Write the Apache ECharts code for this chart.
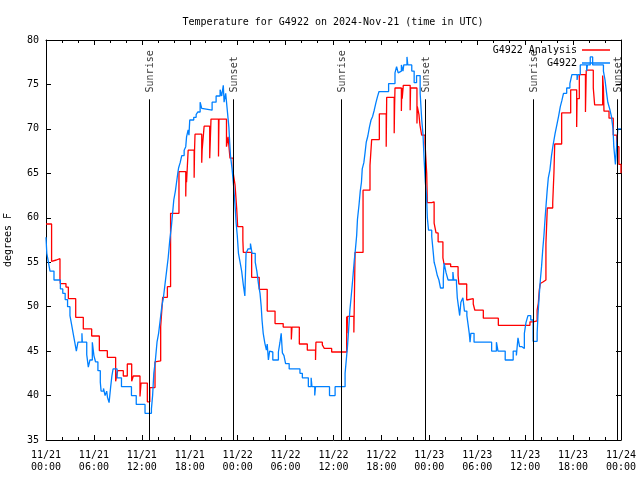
<!DOCTYPE html>
<html>
<head>
<meta charset="utf-8">
<script src="https://cdn.jsdelivr.net/npm/echarts@6/dist/echarts.min.js"></script>
<style>html,body{margin:0;padding:0;background:#fff;}#c{width:640px;height:480px;}</style>
</head>
<body>
<div id="c"></div>
<script>
// hours since 11/21 00:00 UTC, temperature (F)
const observed = [[0,57.8],[0.1,56],[0.3,55],[0.5,54],[1.0,53],[1.8,52],[2.1,51.5],[2.4,50.8],[2.7,50],[3.0,49],[3.2,48],[3.4,47],[3.6,46],[3.8,45],[4.0,46],[4.5,47],[4.55,46],[5.1,44.6],[5.3,43.2],[5.5,44],[5.8,46],[6.0,44.5],[6.2,43.8],[6.5,42.8],[6.8,41.5],[6.9,40.5],[7.2,40.8],[7.4,40],[7.6,40.5],[7.7,39.8],[7.9,39.2],[8.1,41],[8.25,42.2],[8.4,43],[8.9,42],[9.45,41],[10.7,40],[11.3,39],[12.4,38],[13.2,38.5],[13.35,40],[13.5,42.5],[13.7,44],[13.9,46],[14.1,47],[14.3,48.5],[14.5,50],[14.7,51],[14.9,52.5],[15.1,54],[15.3,55.5],[15.5,57.5],[15.7,59],[15.85,60.5],[16.0,62],[16.2,63],[16.35,64],[16.5,65],[16.6,65.6],[16.8,66.2],[17.0,67],[17.3,67.6],[17.5,68],[17.6,69.1],[17.8,69.9],[17.9,69.3],[18.0,71],[18.5,71.3],[18.8,71.6],[19.0,71.9],[19.3,73],[19.5,72.3],[19.7,72.1],[20.8,73],[21.3,73.7],[21.8,74.4],[22.0,73.7],[22.2,74.9],[22.3,73],[22.5,74],[22.7,72.1],[22.9,70.2],[23.0,68.5],[23.1,67],[23.3,65.5],[23.5,63.5],[23.7,61],[23.8,59.5],[23.95,58],[24.1,56],[24.3,55],[24.5,54],[24.7,52.5],[24.9,51.2],[25.05,56],[25.3,56.5],[25.6,57.1],[25.8,56],[26.2,55],[26.4,54],[26.6,52.6],[26.8,51.5],[26.95,50],[27.05,48.5],[27.2,47],[27.4,45.9],[27.6,45.1],[27.7,45.8],[27.85,44],[28.0,45],[28.2,44.9],[28.4,44],[29.1,44.9],[29.3,46],[29.45,47],[29.6,44.8],[29.8,44.5],[30.0,43.6],[30.45,43],[31.8,42.5],[32.1,42],[32.85,41],[33.2,42],[33.3,41],[33.65,40],[33.75,41],[35.5,40],[36.2,41],[37.45,42.5],[37.6,44],[37.75,45.5],[37.9,47.5],[38.05,49.6],[38.2,51],[38.4,53],[38.6,55.2],[38.75,56.5],[38.9,58],[39.0,59.8],[39.2,61.5],[39.35,63],[39.5,64],[39.6,65.5],[39.8,66.2],[39.95,67.3],[40.1,68.5],[40.3,69.2],[40.5,70.2],[40.7,71],[40.9,71.4],[41.1,72.1],[41.3,72.9],[41.5,73.6],[41.7,74.2],[42.9,75.1],[43.7,76.3],[43.9,77],[44.1,76.3],[44.3,76.5],[44.5,77.2],[44.7,76.5],[44.8,77.2],[45.2,78.1],[45.3,77.2],[45.8,76.5],[46.1,75.2],[46.4,76],[46.85,74],[46.95,72.5],[47.05,71],[47.2,69.5],[47.35,66.5],[47.5,64],[47.65,62.5],[47.75,60],[47.9,58.6],[48.3,57.9],[48.5,56],[48.6,55],[48.75,54.5],[49.0,53.5],[49.2,53],[49.4,52.1],[49.75,53.2],[49.85,54.9],[50.1,53.8],[50.35,53],[50.95,53.9],[51.05,53],[51.4,52.6],[51.5,51],[51.65,50],[51.8,49],[51.95,50.5],[52.2,51],[52.4,49.5],[52.7,49],[52.85,48],[53.0,47],[53.1,46],[53.2,47],[53.6,46],[55.8,45],[56.4,46],[56.6,45],[57.5,44],[58.5,45],[58.9,44.5],[59.1,46.5],[59.3,45.5],[59.6,45.3],[59.9,47],[60.1,48.2],[60.35,49],[60.7,48.5],[61.0,46.1],[61.5,47],[61.6,49],[61.75,51.1],[61.9,53],[62.05,54.5],[62.2,56.4],[62.35,58],[62.5,60],[62.6,61.2],[62.75,63],[62.9,64.5],[63.1,65.4],[63.3,67],[63.5,68.2],[63.75,69.5],[64.0,70.6],[64.2,71.5],[64.4,72.5],[64.6,73.2],[64.8,74],[65.2,74.6],[65.6,75.1],[65.85,76.1],[66.5,75.5],[66.6,76.1],[66.9,77.2],[67.7,76.5],[67.8,77.2],[68.15,78.1],[68.45,77.2],[69.8,76.5],[70.0,75.5],[70.2,74],[70.35,73],[70.6,72.2],[70.8,71.4],[71.0,70],[71.1,68],[71.3,66],[71.45,68],[71.6,70],[72,70]];

const analysis = [[0,59.3],[0.7,55.1],[0.85,55.25],[1.3,55.4],[1.75,53],[1.8,52.6],[2.5,52.2],[2.8,50.9],[3.72,48.8],[4.67,47.5],[5.72,46.7],[6.68,45.05],[7.68,44.3],[8.72,41.6],[8.97,42.8],[9.68,42.2],[10.18,43.55],[10.73,41.6],[10.93,42.2],[11.77,39.9],[11.9,41.4],[12.69,39.3],[13.0,40.9],[13.65,43.8],[13.8,43.9],[14.36,47.75],[14.61,51.05],[15.2,52.25],[15.6,60.5],[16.65,65.2],[17.5,62.4],[17.55,65.2],[17.6,64],[17.8,67.6],[18.55,64.5],[18.6,67.6],[18.66,69.4],[19.5,66.2],[19.55,67.6],[19.8,70.3],[20.5,66.7],[20.66,71.1],[21.6,66.9],[21.66,71.1],[22.6,68],[22.8,69.1],[23.04,66.7],[23.45,65],[23.67,63.7],[23.88,61],[24.0,59],[24.65,57.5],[24.71,56.1],[25.75,53.3],[26.7,51.95],[27.7,49.5],[28.68,48.1],[29.7,47.7],[30.72,46.3],[30.8,47.7],[31.72,45.8],[32.72,45.1],[33.75,44],[33.8,46],[34.6,45.7],[34.85,45.3],[35.77,44.9],[37.65,48.9],[37.7,47],[37.75,48.9],[38.55,47.1],[38.7,56.1],[39.7,63.1],[40.57,65.9],[40.78,68.8],[41.74,71.7],[42.6,68],[42.66,73.55],[43.6,69.5],[43.65,72.5],[43.7,74.6],[44.5,72],[44.55,74.6],[44.6,73.4],[44.74,74.9],[45.6,72.1],[45.65,74.6],[46.45,70.6],[46.5,72.5],[46.7,71.6],[46.83,70.4],[47.04,69.3],[47.46,68.4],[47.67,65],[47.75,61.7],[48.3,61.8],[48.6,59.4],[48.84,58.3],[49.1,57.3],[49.7,55.5],[49.84,54.8],[50.67,54.5],[51.6,53.5],[51.7,52.55],[52.68,50.75],[52.9,50.9],[53.5,50.3],[53.7,49.6],[54.76,48.7],[56.64,47.9],[60.6,48.3],[61.0,48.4],[61.5,49.6],[61.65,50.4],[61.77,51.9],[61.9,52.6],[62.07,52.8],[62.27,53],[62.6,57.1],[62.77,61.1],[63.45,61.7],[63.6,65],[63.7,68.3],[64.57,71.8],[65.7,74.4],[66.45,70.2],[66.5,73.4],[66.78,76.1],[67.55,71.9],[67.65,76.6],[68.53,74.6],[68.7,72.7],[69.7,76],[69.8,74.6],[69.87,72],[70.5,71.2],[71.03,69.3],[71.45,68],[71.74,66],[72,65]];

const eventTimes = [12.9, 23.42, 36.94, 47.46, 60.98, 71.5];
const eventNames = ['Sunrise', 'Sunset', 'Sunrise', 'Sunset', 'Sunrise', 'Sunset'];
const eventLineTop = 73.33;
const eventLabelBase = 74.1;

const xTickLabels = ['11/21\n00:00','11/21\n06:00','11/21\n12:00','11/21\n18:00','11/22\n00:00','11/22\n06:00','11/22\n12:00','11/22\n18:00','11/23\n00:00','11/23\n06:00','11/23\n12:00','11/23\n18:00','11/24\n00:00'];
const seriesNames = ['G4922 Analysis', 'G4922'];
const titleText = 'Temperature for G4922 on 2024-Nov-21 (time in UTC)';
const yName = 'degrees F';

const FONT = 'DejaVu Sans Mono';
const txt = {fontFamily: FONT, fontSize: 10, color: '#000'};

const chart = echarts.init(document.getElementById('c'), null, {renderer: 'canvas'});

function xAxisCfg(pos, showLabels) {
  return {
    type: 'value', position: pos, min: 0, max: 72, interval: 6,
    axisLine: {show: true, onZero: false, lineStyle: {color: '#000', width: 1}},
    axisTick: {show: true, inside: true, length: 5, lineStyle: {color: '#000'}},
    minorTick: {show: true, splitNumber: 3, length: 3, lineStyle: {color: '#000'}},
    splitLine: {show: false},
    axisLabel: showLabels ? Object.assign({show: true, margin: 9, lineHeight: 12,
      formatter: v => xTickLabels[Math.round(v / 6)] || ''}, txt) : {show: false}
  };
}
function yAxisCfg(pos, showLabels) {
  return {
    type: 'value', position: pos, min: 35, max: 80, interval: 5,
    name: showLabels ? yName : '', nameLocation: 'middle', nameGap: 33, nameRotate: 90,
    nameTextStyle: txt,
    axisLine: {show: true, onZero: false, lineStyle: {color: '#000', width: 1}},
    axisTick: {show: true, inside: true, length: 5, lineStyle: {color: '#000'}},
    splitLine: {show: false},
    axisLabel: showLabels ? Object.assign({show: true, margin: 7}, txt) : {show: false}
  };
}

const option = {
  animation: false,
  backgroundColor: '#fff',
  title: {text: titleText, left: 328, top: 12, textAlign: 'center',
    textStyle: {fontFamily: FONT, fontSize: 10, fontWeight: 'normal', color: '#000'}},
  legend: {
    data: seriesNames.map(n => ({name: n, icon: 'rect'})),
    orient: 'vertical', align: 'right', right: 30, top: 44,
    itemWidth: 28, itemHeight: 1.5, itemGap: 1, textStyle: Object.assign({lineHeight: 12}, txt), padding: 0,
    selectedMode: false
  },
  grid: {left: 46, right: 19, top: 40, bottom: 40, containLabel: false, outerBoundsMode: 'none'},
  xAxis: [xAxisCfg('bottom', true), xAxisCfg('top', false)],
  yAxis: [yAxisCfg('left', true), yAxisCfg('right', false)],
  series: [
    {name: seriesNames[0], type: 'line', step: 'end', data: analysis, symbol: 'none',
      lineStyle: {color: '#ff0000', width: 1.3}, itemStyle: {color: '#ff0000'}, z: 2},
    {name: seriesNames[1], type: 'line', step: 'end', data: observed, symbol: 'none',
      lineStyle: {color: '#0080ff', width: 1.3}, itemStyle: {color: '#0080ff'}, z: 3},
    {name: 'events', type: 'scatter', symbolSize: 0, z: 4,
      data: eventTimes.map((t, i) => [t, eventLabelBase, eventNames[i]]),
      label: {show: true, formatter: p => p.data[2], rotate: 90, position: [1, 0],
        align: 'left', verticalAlign: 'middle', fontFamily: FONT, fontSize: 10, color: '#000'},
      markLine: {silent: true, symbol: ['none', 'none'], animation: false,
        label: {show: false}, lineStyle: {color: '#000', width: 1, type: 'solid'},
        emphasis: {disabled: true},
        data: eventTimes.map(t => [{coord: [t, 35]}, {coord: [t, eventLineTop]}])}
    }
  ]
};
chart.setOption(option);
</script>
</body>
</html>
